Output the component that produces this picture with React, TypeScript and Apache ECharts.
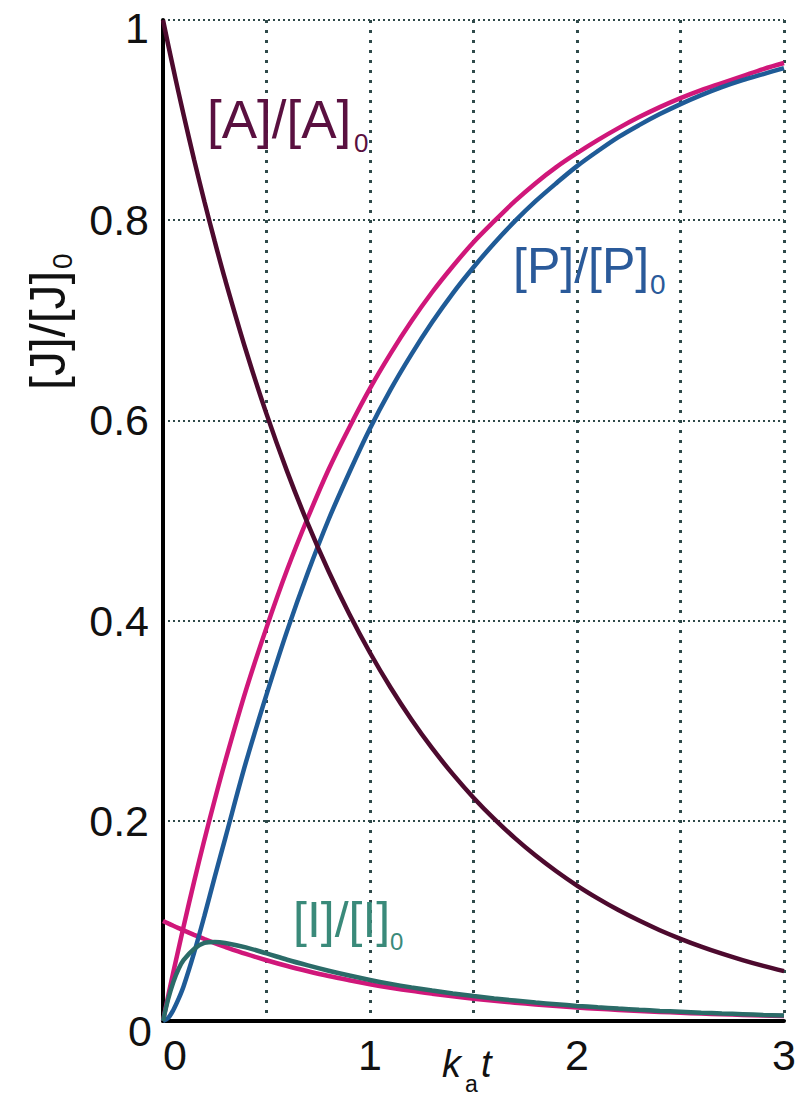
import React, { useEffect, useRef } from "react";
import * as echarts from "echarts";

const tValues = [0, 0.025, 0.05, 0.075, 0.1, 0.15, 0.2, 0.25, 0.3, 0.4, 0.5, 0.6, 0.7, 0.8, 0.9, 1.0, 1.1, 1.2, 1.3, 1.4, 1.5, 1.6, 1.7, 1.8, 1.9, 2.0, 2.1, 2.2, 2.3, 2.4, 2.5, 2.6, 2.7, 2.8, 2.9, 3.0];
const aValues = [1, 0.9753, 0.9512, 0.9277, 0.9048, 0.8607, 0.8187, 0.7788, 0.7408, 0.6703, 0.6065, 0.5488, 0.4966, 0.4493, 0.4066, 0.3679, 0.3329, 0.3012, 0.2725, 0.2466, 0.2231, 0.2019, 0.1827, 0.1653, 0.1496, 0.1353, 0.1225, 0.1108, 0.1003, 0.0907, 0.0821, 0.0743, 0.0672, 0.0608, 0.055, 0.0498];
const pApproxValues = [0, 0.025, 0.049, 0.072, 0.095, 0.139, 0.181, 0.221, 0.259, 0.33, 0.393, 0.451, 0.503, 0.551, 0.593, 0.632, 0.667, 0.699, 0.728, 0.754, 0.778, 0.799, 0.819, 0.837, 0.853, 0.867, 0.88, 0.892, 0.903, 0.913, 0.922, 0.93, 0.937, 0.944, 0.951, 0.957];
const pValues = [0, 0.003, 0.011, 0.022, 0.035, 0.068, 0.105, 0.144, 0.182, 0.258, 0.326, 0.39, 0.448, 0.501, 0.548, 0.592, 0.631, 0.666, 0.698, 0.727, 0.753, 0.777, 0.799, 0.819, 0.837, 0.854, 0.869, 0.883, 0.895, 0.906, 0.916, 0.925, 0.933, 0.94, 0.946, 0.952];
const iApproxValues = [0.1, 0.0975, 0.0951, 0.0928, 0.0905, 0.0861, 0.0819, 0.0779, 0.0741, 0.067, 0.0607, 0.0549, 0.0497, 0.0449, 0.0407, 0.0368, 0.0333, 0.0301, 0.0273, 0.0247, 0.0223, 0.0202, 0.0183, 0.0165, 0.015, 0.0135, 0.0122, 0.0111, 0.01, 0.0091, 0.0082, 0.0074, 0.0067, 0.0061, 0.0055, 0.005];
const iValues = [0, 0.022, 0.039, 0.052, 0.061, 0.072, 0.078, 0.079, 0.078, 0.0735, 0.0675, 0.0612, 0.0555, 0.0502, 0.0454, 0.041, 0.0371, 0.0336, 0.0304, 0.0275, 0.0249, 0.0225, 0.0204, 0.0184, 0.0167, 0.0151, 0.0137, 0.0124, 0.0112, 0.0101, 0.0092, 0.0083, 0.0075, 0.0068, 0.0061, 0.0055];
const xTickLabels = ["0", "1", "2", "3"];
const yTickLabels = ["0", "0.2", "0.4", "0.6", "0.8", "1"];

const pairs = (ys: number[]) => tValues.map((t, i) => [t, ys[i]]);

const FONT = "'Liberation Sans', Arial, sans-serif";

export default function App() {
  const ref = useRef<HTMLDivElement>(null);
  useEffect(() => {
    document.body.style.margin = "0";
    const chart = echarts.init(ref.current!, null, { renderer: "svg" });
    const lineSeries = (name: string, ys: number[], color: string, z: number) => ({
      name,
      type: "line",
      data: pairs(ys),
      smooth: 0.35,
      showSymbol: false,
      z,
      lineStyle: { color, width: 4.5 },
      emphasis: { disabled: true },
    });
    const label = (text: string, x: number, y: number, size: number, color: string, extra: any = {}) => ({
      type: "text",
      x,
      y,
      z: 100,
      style: { text, fontSize: size, fontFamily: FONT, fill: color, verticalAlign: "middle", ...extra },
    });
    chart.setOption({
      animation: false,
      backgroundColor: "#ffffff",
      grid: { left: 163, right: 21, top: 20, bottom: 80, containLabel: false },
      xAxis: {
        type: "value",
        min: 0,
        max: 3,
        interval: 0.5,
        axisLine: { show: true, lineStyle: { color: "#000", width: 4 } },
        axisTick: { show: false },
        axisLabel: {
          fontSize: 43,
          fontFamily: FONT,
          color: "#111",
          margin: 12,
          alignMinLabel: "left",
          formatter: (v: number) => (Number.isInteger(v) ? xTickLabels[v] : ""),
        },
        splitLine: { show: true, lineStyle: { color: "#2f4a4a", width: 3, type: [3, 7] } },
      },
      yAxis: {
        type: "value",
        min: 0,
        max: 1,
        interval: 0.2,
        axisLine: { show: true, lineStyle: { color: "#000", width: 4 } },
        axisTick: { show: false },
        axisLabel: {
          fontSize: 43,
          fontFamily: FONT,
          color: "#111",
          margin: 14,
          formatter: (v: number) => {
            const k = Math.round(v * 5);
            return k === 0 || k === 5 ? "" : yTickLabels[k];
          },
        },
        splitLine: { show: true, lineStyle: { color: "#2f4a4a", width: 2, type: [2, 3] } },
      },
      series: [
        lineSeries("[P]/[P]0 approx", pApproxValues, "#d0177a", 2),
        lineSeries("[I]/[I]0 approx", iApproxValues, "#d0177a", 2),
        lineSeries("[P]/[P]0", pValues, "#1f5b97", 3),
        lineSeries("[A]/[A]0", aValues, "#4d0a2e", 4),
        lineSeries("[I]/[I]0", iValues, "#2b6b68", 5),
      ],
      graphic: [
        label(yTickLabels[5], 149, 28, 43, "#111", { align: "right" }),
        label(yTickLabels[0], 152, 1031, 43, "#111", { align: "right" }),
        label("[A]/[A]", 207, 119, 53, "#5a1040"),
        label("0", 354, 143, 26, "#5a1040"),
        label("[P]/[P]", 513, 266, 50, "#2a5a9a"),
        label("0", 650, 284, 28, "#2a5a9a"),
        label("[I]/[I]", 293, 920, 50, "#3a8a7a"),
        label("0", 390, 941, 24, "#3a8a7a"),
        label("k", 442, 1064, 38, "#111", { fontStyle: "italic" }),
        label("a", 465, 1084, 23, "#111"),
        label("t", 481, 1064, 38, "#111", { fontStyle: "italic" }),
        {
          type: "group",
          x: 48,
          y: 390,
          rotation: Math.PI / 2,
          z: 100,
          children: [
            { type: "text", x: 0, y: 0, style: { text: "[J]/[J]", fontSize: 50, fontFamily: FONT, fill: "#111", verticalAlign: "middle" } },
            { type: "text", x: 121, y: 14, style: { text: "0", fontSize: 28, fontFamily: FONT, fill: "#111", verticalAlign: "middle" } },
          ],
        },
      ],
    });
    return () => chart.dispose();
  }, []);
  return <div ref={ref} style={{ width: 805, height: 1101 }} />;
}
